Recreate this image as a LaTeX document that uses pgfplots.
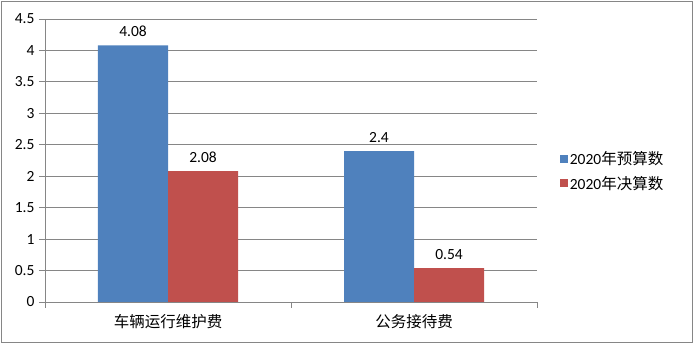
\documentclass[border=0pt]{standalone}
\usepackage{pgfplots}
\pgfplotsset{compat=1.18}
\usepackage{fontspec}
\setmainfont{Carlito}
\newfontfamily\cjk{Noto Sans CJK SC}
\definecolor{sblue}{HTML}{4F81BD}
\definecolor{sred}{HTML}{C0504D}
\definecolor{gline}{HTML}{868686}
\begin{document}
\begin{tikzpicture}[x=1pt,y=1pt]
\useasboundingbox (-45pt,-45pt) rectangle (649pt,302pt);
\draw[gline,line width=1pt] (-43pt,-41pt) rectangle (647pt,300pt);
\begin{axis}[
  at={(0pt,0pt)}, anchor=south west,
  scale only axis, width=492pt, height=283pt,
  ybar=0pt, bar width=70pt,
  xmin=-0.5, xmax=1.5, ymin=0, ymax=4.5,
  ytick={0,0.5,...,4.5},
  xtick={-0.5,0.5,1.5},
  x tick label as interval,
  xticklabels={{\cjk 车辆运行维护费},{\cjk 公务接待费}},
  axis x line*=bottom, axis y line*=left,
  axis line style={gline,line width=0.8pt},
  every tick/.style={gline,line width=0.8pt},
  major tick length=6pt,
  xtick align=outside, ytick align=outside,
  ymajorgrids, grid style={gline,line width=0.8pt},
  tick label style={font=\fontsize{15.5}{17}\selectfont, black},
  /pgf/number format/assume math mode=true,
  yticklabel style={xshift=-1pt},
  xticklabel style={yshift=-3pt},
  nodes near coords,
  nodes near coords style={font=\fontsize{15.5}{17}\selectfont, black, yshift=5pt},
  point meta=explicit symbolic,
  legend style={draw=none, at={(1.04,0.463)}, anchor=west, font=\fontsize{15.5}{17}\selectfont, row sep=6pt, legend cell align=left},
  legend image code/.code={\fill[#1] (0pt,-4pt) rectangle (8pt,4pt);},
]
\addplot[fill=sblue, draw=none] coordinates {(0,4.08) [4.08] (1,2.4) [2.4]};
\addplot[fill=sred, draw=none] coordinates {(0,2.08) [2.08] (1,0.54) [0.54]};
\legend{{2020\cjk 年预算数},{2020\cjk 年决算数}}
\end{axis}
\end{tikzpicture}
\end{document}
